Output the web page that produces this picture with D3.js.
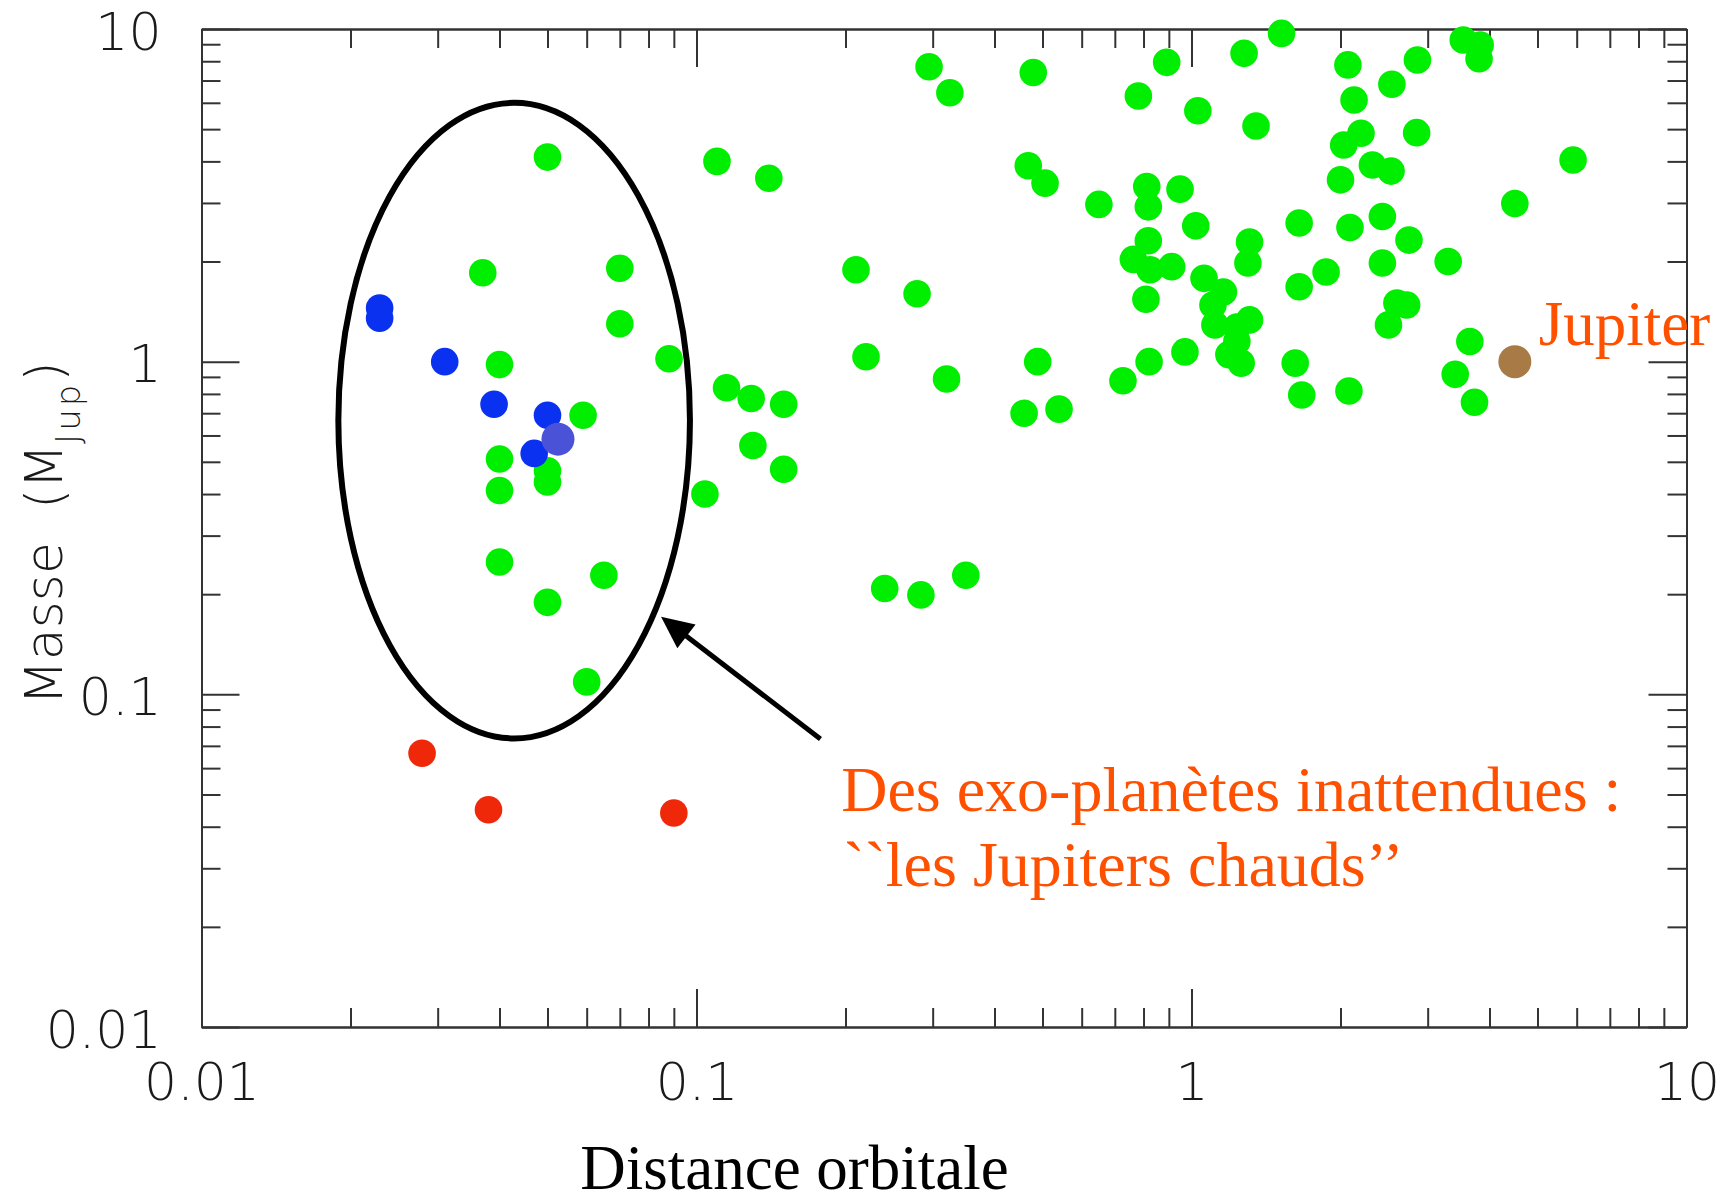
<!DOCTYPE html>
<html>
<head>
<meta charset="utf-8">
<script src="https://cdn.jsdelivr.net/npm/d3@7"></script>
<style>
  body { margin: 0; background: #fff; }
  svg { display: block; }
</style>
</head>
<body>
<svg id="chart" width="1735" height="1203"></svg>
<script>
/* global d3 */
'use strict';

// exo-planets found so far : orbital distance (AU) / mass (M_Jup)
const greenDist = [
  0.037, 0.070, 0.070, 0.040, 0.088, 0.059, 0.040, 0.050, 0.050, 0.040, 0.104, 0.040, 0.065, 0.050, 0.060, 0.050,
  0.115, 0.129, 0.150, 0.130, 0.150, 0.110, 0.140, 0.295, 0.325, 0.479, 0.468, 0.506, 0.65, 0.210, 0.279, 0.220,
  0.320, 0.489, 0.727, 0.459, 0.540, 0.240, 0.284, 0.350,
  1.52, 0.891, 1.277, 0.781, 1.03, 1.35, 2.07, 2.13, 2.54, 2.86, 3.54, 3.83, 3.81, 2.20, 2.03, 2.85, 2.32, 2.53,
  2.0, 0.812, 0.818, 0.948, 1.02, 1.65, 2.09, 2.43, 2.75, 2.43, 3.30, 0.818, 0.763, 0.825, 0.912, 1.31, 1.30,
  0.809, 1.06, 1.16, 1.105, 1.115, 1.235, 1.31, 1.235, 1.19, 1.26, 1.65, 1.87, 2.60, 2.72, 2.50, 3.65, 3.41, 3.73,
  0.821, 0.97, 1.62, 1.67, 2.08, 5.9, 4.5
];
const greenMass = [
  1.85, 1.91, 1.30, 0.98, 1.02, 0.69, 0.51, 0.47, 0.435, 0.41, 0.40, 0.25, 0.228, 0.189, 0.109, 4.12,
  0.835, 0.775, 0.745, 0.56, 0.475, 4.0, 3.56, 7.7, 6.43, 7.4, 3.88, 3.44, 2.97, 1.89, 1.6, 1.035,
  0.887, 1.0, 0.876, 0.70, 0.72, 0.208, 0.199, 0.228,
  9.7, 7.94, 8.45, 6.29, 5.68, 5.11, 7.8, 6.12, 6.82, 8.07, 9.27, 8.95, 8.14, 4.86, 4.48, 4.88, 3.90, 3.74,
  3.52, 3.36, 2.92, 3.30, 2.56, 2.61, 2.53, 2.73, 2.32, 1.98, 2.0, 2.31, 2.03, 1.89, 1.93, 2.29, 1.98,
  1.54, 1.78, 1.62, 1.48, 1.29, 1.27, 1.335, 1.15, 1.05, 0.99, 1.68, 1.86, 1.50, 1.48, 1.29, 1.15, 0.916, 0.755,
  1.0, 1.07, 0.99, 0.794, 0.816, 4.04, 2.99
];

// hot jupiters (blue), the highlighted one, and the light ones (red)
const blueDist = [0.0229, 0.0229, 0.031, 0.039, 0.050, 0.047];
const blueMass = [1.45, 1.35, 1.0, 0.745, 0.69, 0.53];
const hotDist = [0.0525];
const hotMass = [0.585];
const redDist = [0.0279, 0.038, 0.090];
const redMass = [0.0665, 0.045, 0.044];
const jupiterDist = [4.5];
const jupiterMass = [1.0];

// axes
const majorTicks = [0.01, 0.1, 1, 10];
const majorLabels = ['0.01', '0.1', '1', '10'];

// annotations (data coordinates)
const ellipseDist = [0.0189, 0.097];
const ellipseMass = [0.0737, 6.0];
const arrowFrom = [0.178, 0.0734];
const arrowTo = [0.0848, 0.171];
const noteAt = [0.196, 0.0446];
const noteLines = ['Des exo-planètes inattendues :', '``les Jupiters chauds’’'];

const margin = {top: 29, right: 48.5, bottom: 176, left: 201.5};
const width = 1735 - margin.left - margin.right;
const height = 1203 - margin.top - margin.bottom;

const x = d3.scaleLog().domain([0.01, 10]).range([margin.left, margin.left + width]);
const y = d3.scaleLog().domain([0.01, 10]).range([margin.top + height, margin.top]);

const isMajor = (d) => Math.abs(Math.log10(d) - Math.round(Math.log10(d))) < 1e-6;
const minorTicks = x.ticks().filter((d) => !isMajor(d));

const svg = d3.select('#chart');
const thinFont = '"DejaVu Sans", sans-serif';
const serifFont = '"Liberation Serif", "Times New Roman", serif';
const orange = '#ff5000';

/**
 * Draws one side of the frame with long major and short minor ticks
 * @param {Function} axisFn d3 axis generator
 * @param {Object} scale scale of that side
 * @param {String} transform translation of the axis
 * @param {Boolean} labels draw the tick labels
 */
function drawSide(axisFn, scale, transform, labels) {
  const major = axisFn(scale)
    .tickValues(majorTicks)
    .tickSizeInner(-38)
    .tickSizeOuter(0)
    .tickPadding(axisFn === d3.axisBottom ? 36 : 40)
    .tickFormat((d) => (labels ? majorLabels[majorTicks.indexOf(d)] : ''));
  const minor = axisFn(scale)
    .tickValues(minorTicks)
    .tickSizeInner(-19)
    .tickSizeOuter(0)
    .tickFormat('');

  [major, minor].forEach(function(a) {
    const g = svg.append('g').attr('transform', transform).call(a);
    g.select('.domain').attr('stroke', '#333').attr('stroke-width', 2);
    g.selectAll('.tick line').attr('stroke', '#333').attr('stroke-width', 2);
    g.selectAll('.tick text')
      .attr('font-family', thinFont)
      .attr('font-weight', 200)
      .attr('font-size', 52)
      .attr('fill', '#1a1a1a');
    if (axisFn === d3.axisLeft) {
      // the labels sit a little under their tick
      g.selectAll('.tick text').attr('dy', '0.39em');
    }
  });
}

drawSide(d3.axisBottom, x, `translate(0,${margin.top + height})`, true);
drawSide(d3.axisTop, x, `translate(0,${margin.top})`, false);
drawSide(d3.axisLeft, y, `translate(${margin.left},0)`, true);
drawSide(d3.axisRight, y, `translate(${margin.left + width},0)`, false);

// ellipse round the hot jupiters
svg.append('ellipse')
  .attr('cx', (x(ellipseDist[0]) + x(ellipseDist[1])) / 2)
  .attr('cy', (y(ellipseMass[0]) + y(ellipseMass[1])) / 2)
  .attr('rx', (x(ellipseDist[1]) - x(ellipseDist[0])) / 2)
  .attr('ry', (y(ellipseMass[0]) - y(ellipseMass[1])) / 2)
  .attr('fill', 'none')
  .attr('stroke', '#000')
  .attr('stroke-width', 6);

/**
 * Adds a group of planets
 * @param {Array} dist orbital distances
 * @param {Array} mass masses
 * @param {String} color fill
 * @param {Number} r radius
 */
function drawPlanets(dist, mass, color, r) {
  svg.append('g')
    .selectAll('circle')
    .data(d3.zip(dist, mass))
    .enter()
    .append('circle')
    .attr('cx', (d) => x(d[0]))
    .attr('cy', (d) => y(d[1]))
    .attr('r', r)
    .attr('fill', color);
}

drawPlanets(greenDist, greenMass, '#00ee00', 13.8);
drawPlanets(redDist, redMass, '#f0280a', 13.8);
drawPlanets(blueDist, blueMass, '#0a30f0', 13.8);
drawPlanets(hotDist, hotMass, '#4a52d8', 16.5);
drawPlanets(jupiterDist, jupiterMass, '#a87a45', 16.5);

// arrow pointing at the ellipse
const ax0 = x(arrowFrom[0]);
const ay0 = y(arrowFrom[1]);
const ax1 = x(arrowTo[0]);
const ay1 = y(arrowTo[1]);
const len = Math.hypot(ax1 - ax0, ay1 - ay0);
const ux = (ax1 - ax0) / len;
const uy = (ay1 - ay0) / len;
const headLen = 32;
const headHalf = 15;
const bx = ax1 - ux * headLen;
const by = ay1 - uy * headLen;

svg.append('line')
  .attr('x1', ax0).attr('y1', ay0)
  .attr('x2', bx + ux * 4).attr('y2', by + uy * 4)
  .attr('stroke', '#000')
  .attr('stroke-width', 5);
svg.append('path')
  .attr('d', d3.line()([
    [ax1, ay1],
    [bx - uy * headHalf, by + ux * headHalf],
    [bx + uy * headHalf, by - ux * headHalf]
  ]) + 'Z')
  .attr('fill', '#000');

// texts
svg.append('text')
  .attr('x', x(jupiterDist[0]) + 24)
  .attr('y', y(jupiterMass[0]) - 17)
  .attr('font-family', serifFont)
  .attr('font-size', 63)
  .attr('fill', orange)
  .text('Jupiter');

svg.append('g')
  .selectAll('text')
  .data(noteLines)
  .enter()
  .append('text')
  .attr('x', (d, i) => x(noteAt[0]) + i * 2)
  .attr('y', (d, i) => y(noteAt[1]) + i * 75)
  .attr('font-family', serifFont)
  .attr('font-size', 64)
  .attr('fill', orange)
  .text((d) => d);

svg.append('text')
  .attr('x', margin.left + 593)
  .attr('y', 1189)
  .attr('text-anchor', 'middle')
  .attr('font-family', serifFont)
  .attr('font-size', 63)
  .attr('fill', '#000')
  .text('Distance orbitale');

const yTitle = svg.append('text')
  .attr('transform', 'translate(62,705) rotate(-90)')
  .attr('font-family', thinFont)
  .attr('font-weight', 200)
  .attr('font-size', 52)
  .attr('fill', '#1a1a1a')
  .style('white-space', 'pre');
yTitle.append('tspan').text('Masse  (M');
yTitle.append('tspan')
  .attr('dy', 18)
  .attr('font-size', 34)
  .attr('font-weight', 300)
  .attr('letter-spacing', 3)
  .text('Jup');
yTitle.append('tspan')
  .attr('dy', -18)
  .text(')');
</script>
</body>
</html>
